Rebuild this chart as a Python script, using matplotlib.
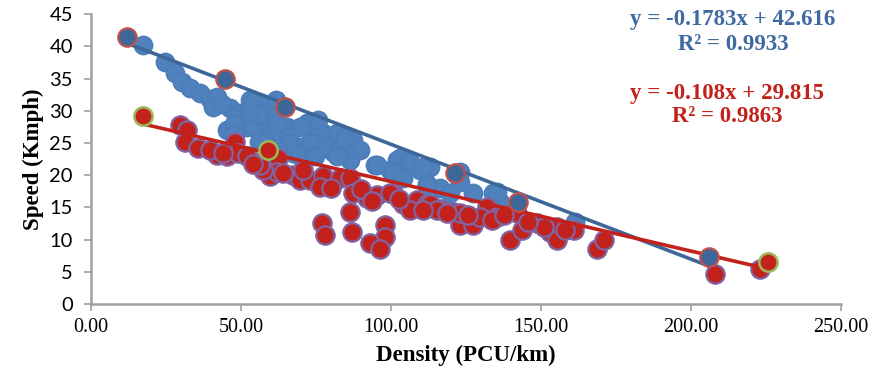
import matplotlib
matplotlib.use('Agg')
import matplotlib.pyplot as plt
import numpy as np

# speed-density observations, two sites
blue_x = [17.4, 24.7, 28.0, 30.2, 33.0, 36.3, 39.7, 41.9, 40.7, 46.3, 45.2, 49.7,
          53.0, 56.3, 51.9, 58.6, 54.1, 49.7, 58.6, 65.2, 71.9, 74.0, 58.6, 54.0,
          63.0, 68.6, 71.9, 77.4, 81.9, 87.4, 89.7, 86.3, 80.8, 94.7, 69.7, 76.3,
          78.6, 83.0, 81.9, 70.7, 67.4, 58.6, 63.0, 101.9, 105.2, 103.0, 99.7,
          109.7, 113.0, 111.9, 123.0, 123.0, 116.3, 127.4, 134.0, 136.3, 135.2,
          161.3, 103.0, 106.3, 95.2, 110.7, 100.8, 104.0, 111.9, 119.7, 60.5,
          62.0, 66.0, 73.0, 75.5, 84.5, 56.0, 61.5, 52.5, 47.8, 43.5, 65.5,
          48.0, 56.0, 62.0, 69.7, 74.5]
blue_y = [40.2, 37.6, 35.8, 34.5, 33.5, 32.7, 31.9, 32.2, 30.6, 30.4, 27.0, 29.1,
          31.7, 31.2, 27.5, 28.6, 31.2, 29.6, 29.1, 27.5, 28.1, 27.0, 26.0, 27.5,
          25.0, 24.4, 23.4, 26.5, 26.5, 25.4, 23.9, 22.3, 23.6, 21.6, 27.5, 26.5,
          24.4, 23.9, 22.9, 24.4, 23.4, 25.4, 26.5, 22.3, 21.8, 19.8, 20.8,
          20.8, 21.3, 18.7, 20.5, 19.0, 18.0, 17.2, 17.2, 15.9, 17.4,
          12.8, 22.6, 22.1, 21.6, 21.3, 20.5, 19.5, 18.5, 17.2, 30.2,
          28.0, 26.0, 25.0, 28.5, 25.8, 29.5, 31.6, 29.8, 28.0, 31.0, 24.8,
          26.2, 25.2, 24.0, 22.9, 23.0]

blue_out_x = [11.9, 44.7, 64.7, 121.3, 142.3, 206.0]
blue_out_y = [41.5, 35.0, 30.6, 20.3, 15.9, 7.3]

red_x = [29.7, 31.9, 31.3, 35.8, 41.9, 39.7, 48.0, 45.2, 49.1, 54.1, 51.9, 62.4,
         59.7, 61.9, 67.4, 57.4, 69.7, 56.3, 64.1, 73.0, 77.4, 76.3, 83.0, 86.3,
         87.4, 91.9, 95.2, 100.8, 104.1, 108.6, 111.9, 116.3, 120.8, 86.3, 76.9,
         78.0, 86.9, 98.0, 98.0, 93.0, 96.3, 123.0, 99.7, 106.3, 113.0, 115.2,
         123.0, 127.4, 131.9, 135.2, 139.7, 143.6, 148.6, 153.0, 155.2, 155.2,
         160.8, 168.6, 170.8, 110.8, 118.6, 129.7, 141.9, 150.8, 54.0, 70.5,
         80.0, 90.0, 93.5, 102.5, 125.5, 133.5, 137.5, 145.5, 158.0, 44.0,
         208.0, 223.0]
red_y = [27.8, 27.0, 25.2, 24.2, 23.1, 23.9, 25.2, 22.9, 23.4, 22.1, 22.9, 22.6,
         19.8, 20.5, 20.0, 20.8, 19.2, 21.6, 20.3, 19.2, 19.8, 18.2, 19.5, 19.5,
         17.2, 16.4, 16.9, 17.2, 15.6, 16.1, 15.6, 14.8, 14.3, 14.3, 12.5,
         10.7, 11.2, 12.3, 10.4, 9.4, 8.6, 12.3, 17.2, 14.6, 15.6, 14.6,
         14.1, 12.3, 15.1, 13.5, 9.9, 11.5, 12.5, 11.2, 12.0, 9.9,
         11.5, 8.6, 9.9, 14.6, 14.1, 13.5, 14.1, 12.0, 21.8, 20.8,
         18.0, 17.8, 16.0, 16.3, 13.8, 13.0, 13.8, 12.8, 11.5, 23.4,
         4.6, 5.5]

red_green_x = [17.2, 59.1, 225.5]
red_green_y = [29.2, 23.9, 6.5]

# fitted trendlines
blue_fit = (-0.1783, 42.616, 0.9933)
red_fit = (-0.108, 29.815, 0.9863)

BLUE = '#4F81BD'
BLUE_DARK = '#3D6798'
RED = '#C2221B'

fig = plt.figure(figsize=(8.79, 3.81), dpi=100)
ax = fig.add_axes([0.1035, 0.202, 0.8535, 0.761])

ms = 175
ax.scatter(blue_x, blue_y, s=ms, color=BLUE, edgecolors='#4A7CB8', linewidths=1.0, zorder=2)
ax.scatter(red_x, red_y, s=ms, color=RED, edgecolors='#8064A2', linewidths=1.6, zorder=3)

all_bx = blue_x + blue_out_x
all_rx = red_x + red_green_x
bx = np.array([min(all_bx), max(all_bx)])
rx = np.array([min(all_rx), max(all_rx)])
ax.plot(bx, blue_fit[0] * bx + blue_fit[1], color=BLUE_DARK, lw=2.6, zorder=4,
        solid_capstyle='butt')
ax.plot(rx, red_fit[0] * rx + red_fit[1], color=RED, lw=2.6, zorder=5,
        solid_capstyle='butt')

ax.scatter(blue_out_x, blue_out_y, s=ms, color=BLUE_DARK, edgecolors='#C0504D',
           linewidths=1.6, zorder=6)
ax.scatter(red_green_x, red_green_y, s=ms, color=RED, edgecolors='#9BBB59',
           linewidths=1.8, zorder=6)

ax.set_xlim(0, 250)
ax.set_ylim(0, 45)
ax.set_xticks(np.arange(0, 251, 50))
ax.set_yticks(np.arange(0, 46, 5))
ax.set_xticklabels([f'{v:.2f}' for v in np.arange(0, 251, 50)],
                   family='Liberation Serif', fontsize=14.5)
ax.set_yticklabels([f'{v:d}' for v in np.arange(0, 46, 5)],
                   family='Lato', fontsize=14.5)

for side in ('top', 'right'):
    ax.spines[side].set_visible(False)
for side in ('left', 'bottom'):
    ax.spines[side].set_color('#A0A0A0')
    ax.spines[side].set_linewidth(1.8)
ax.tick_params(axis='both', direction='out', color='#A0A0A0', width=1.2, length=5)
ax.tick_params(axis='x', pad=5)
ax.tick_params(axis='y', pad=8)

ax.set_xlabel('Density (PCU/km)', family='Liberation Serif', fontweight='bold',
              fontsize=16.5, labelpad=6)
ax.set_ylabel('Speed (Kmph)', family='Liberation Serif', fontweight='bold',
              fontsize=16.5, labelpad=4)

eq_font = dict(family='Liberation Serif', fontweight='bold', fontsize=16.5,
               ha='center', va='center', transform=fig.transFigure)
fig.text(733 / 879, 1 - 20 / 381,
         f'y = {blue_fit[0]}x + {blue_fit[1]}', color='#3F6AA0', **eq_font)
fig.text(733 / 879, 1 - 45 / 381, f'R² = {blue_fit[2]}', color='#3F6AA0', **eq_font)
fig.text(727 / 879, 1 - 93 / 381,
         f'y = {red_fit[0]}x + {red_fit[1]}', color=RED, **eq_font)
fig.text(727 / 879, 1 - 117 / 381, f'R² = {red_fit[2]}', color=RED, **eq_font)

fig.savefig('out.png', dpi=100)
